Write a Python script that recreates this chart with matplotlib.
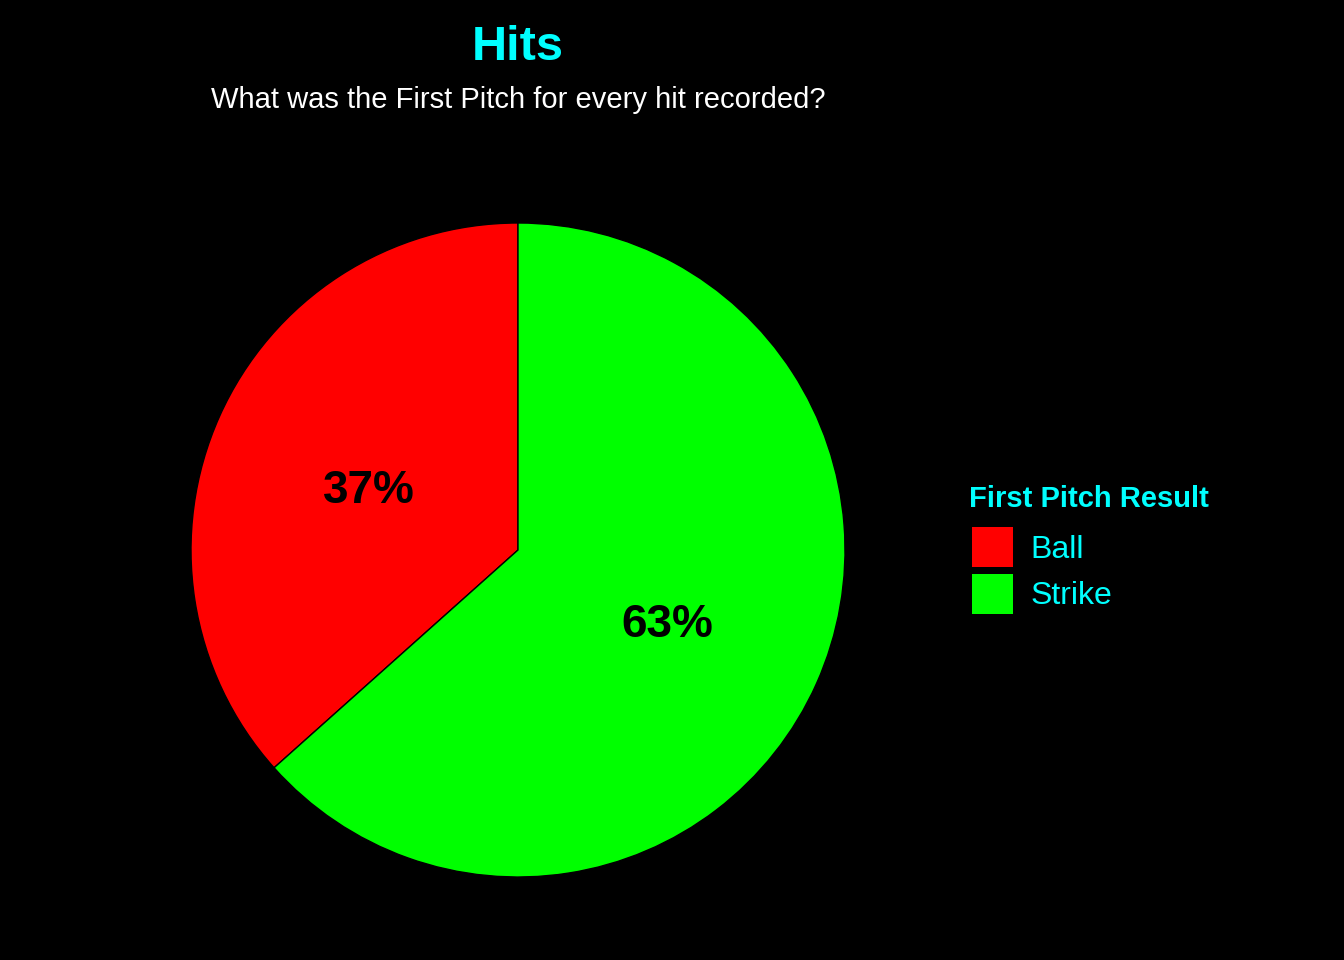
import matplotlib.pyplot as plt
import matplotlib.transforms as mtransforms
from matplotlib.patches import Patch

plt.rcParams['font.family'] = ['Liberation Sans', 'DejaVu Sans']

# data
results = ['Ball', 'Strike']
shares = [36.6, 63.4]
colors = ['#FF0000', '#00FF00']

W, H = 1344, 960
fig = plt.figure(figsize=(W / 100, H / 100), dpi=100, facecolor='black')

# pie centred at (518, 550) px, radius 327 px
cx, cy, r = 518, 550, 327
ax = fig.add_axes([(cx - r) / W, (H - cy - r) / H, 2 * r / W, 2 * r / H])
ax.set_facecolor('black')
wedges, texts, autotexts = ax.pie(shares, colors=colors, startangle=90, counterclock=True,
                                  radius=1, autopct='%1.0f%%', pctdistance=0.5,
                                  wedgeprops=dict(edgecolor='black', linewidth=1),
                                  textprops=dict(color='black', fontsize=33, fontweight='bold'))
# nudge the percent labels down a few pixels
shift = mtransforms.ScaledTranslation(0, -3 / 100, fig.dpi_scale_trans)
for t in autotexts:
    t.set_va('center_baseline')
    t.set_transform(t.get_transform() + shift)
ax.set_xlim(-1, 1)
ax.set_ylim(-1, 1)
ax.set_aspect('equal')
ax.axis('off')

fig.text(cx / W, 1 - 47 / H, 'Hits', color='#00FFFF', fontsize=35, fontweight='bold',
         ha='center', va='center')
fig.text(cx / W, 1 - 100 / H, 'What was the First Pitch for every hit recorded?', color='white',
         fontsize=21, ha='center', va='center')

# legend title drawn on its own so the gap to the keys matches
fig.text(969 / W, 1 - 499 / H, 'First Pitch Result', color='#00FFFF', fontsize=21,
         fontweight='bold', ha='left', va='center')
handles = [Patch(facecolor=c, edgecolor='none') for c in colors]
leg = fig.legend(handles, results, loc='upper left',
                 bbox_to_anchor=(972 / W, 1 - 527 / H), frameon=False, fontsize=23,
                 handlelength=1.28, handleheight=1.56, handletextpad=0.56,
                 labelspacing=0.2, borderpad=0, borderaxespad=0)
for t in leg.get_texts():
    t.set_color('#00FFFF')

fig.savefig('out.png', dpi=100, facecolor='black')
